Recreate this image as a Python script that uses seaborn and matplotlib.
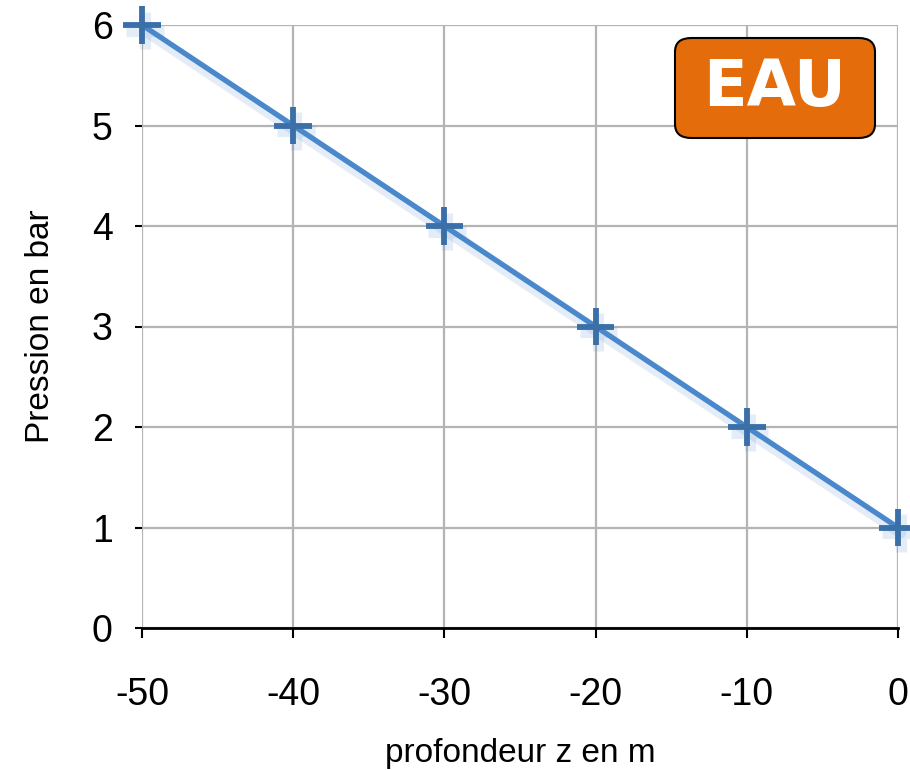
import matplotlib
matplotlib.use("Agg")
import matplotlib.pyplot as plt
import matplotlib.patheffects as pe
from matplotlib.patches import FancyBboxPatch
import seaborn as sns
import pandas as pd

profondeur = [-50, -40, -30, -20, -10, 0]
pression = [6, 5, 4, 3, 2, 1]
x_ticks = [-50, -40, -30, -20, -10, 0]
y_ticks = [0, 1, 2, 3, 4, 5, 6]
xlabel = "profondeur z en m"
ylabel = "Pression en bar"
badge = "EAU"

sns.set_theme(style="white")
plt.rcParams['font.family'] = ['Liberation Sans', 'DejaVu Sans']

df = pd.DataFrame({"z": profondeur, "P": pression})

fig = plt.figure(figsize=(9.1, 7.7), dpi=100)
ax = fig.add_axes([142/910, 1-628/770, (898-142)/910, (628-25)/770])

sns.lineplot(data=df, x="z", y="P", ax=ax, color="#4A88CC", linewidth=3.8,
             marker="+", markersize=27, markeredgewidth=4.2,
             markeredgecolor="#3A6FA8", zorder=5, clip_on=False,
             path_effects=[pe.SimpleLineShadow(offset=(2, -4), shadow_color="#4A88CC", alpha=0.15, linewidth=8),
                           pe.Normal()])

ax.set_xlim(-50, 0)
ax.set_ylim(0, 6)
ax.set_xticks(x_ticks)
ax.set_yticks(y_ticks)
ax.set_xticklabels([str(t) for t in x_ticks])
ax.set_yticklabels([str(t) for t in y_ticks])
ax.grid(True, color="#B4B4B4", linewidth=1.6)
ax.set_axisbelow(True)
for s in ["top", "right", "left"]:
    ax.spines[s].set_visible(False)
ax.spines["bottom"].set_color("black")
ax.spines["bottom"].set_linewidth(2)
ax.tick_params(axis="x", direction="out", length=7, width=1.5, color="black",
               labelsize=27, pad=28, bottom=True, labelcolor="black")
ax.tick_params(axis="y", direction="out", length=5, width=1.5, color="black",
               labelsize=27, pad=16, left=True, labelcolor="black")
ax.set_xlabel(xlabel, fontsize=24, labelpad=18, color="black")
ax.set_ylabel(ylabel, fontsize=24, labelpad=26, color="black")

# badge
bx0, by0, bx1, by1 = 675/910, 1-138/770, 875/910, 1-38/770
box = FancyBboxPatch((bx0, by0), bx1-bx0, by1-by0,
                     boxstyle="round,pad=0,rounding_size=0.018",
                     transform=fig.transFigure, facecolor="#E46C0A",
                     edgecolor="black", linewidth=1.5, zorder=10)
fig.patches.append(box)
fig.text((bx0+bx1)/2, (by0+by1)/2, badge, ha="center", va="center",
         fontsize=46, fontweight="bold", color="white",
         family=["DejaVu Sans"], zorder=11)

fig.savefig("out.png", dpi=100)
